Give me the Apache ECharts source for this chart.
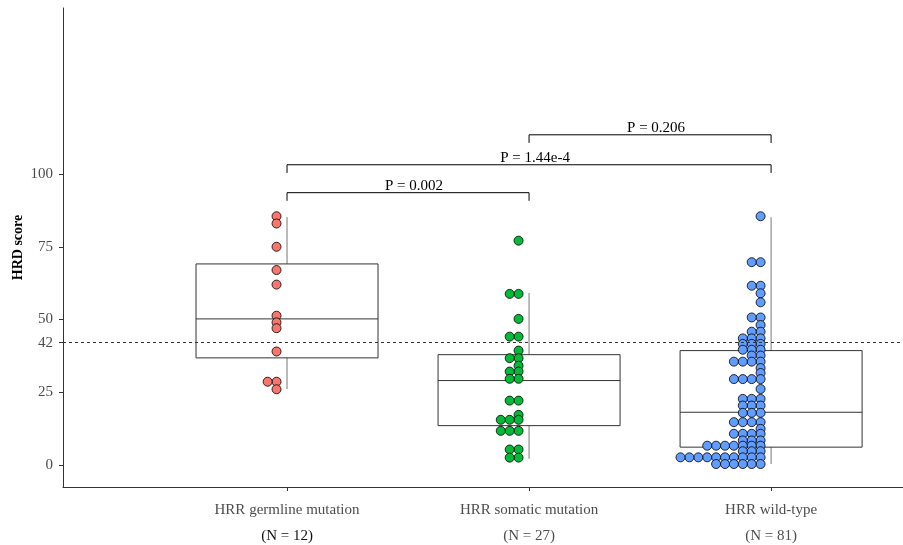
<!DOCTYPE html>
<html>
<head>
<meta charset="utf-8">
<script src="https://cdn.jsdelivr.net/npm/echarts@6/dist/echarts.min.js"></script>
<style>
  html, body { margin: 0; padding: 0; background: #fff; }
  #chart { width: 903px; height: 545px; }
</style>
</head>
<body>
<div id="chart"></div>
<script>
const groups = ['HRR germline mutation', 'HRR somatic mutation', 'HRR wild-type'];
const groupN = ['(N = 12)', '(N = 27)', '(N = 81)'];
const colors = ['#F8766D', '#00BA38', '#619CFF'];
const yTicks = [0, 25, 42, 50, 75, 100];
const cutoff = 42;

const germline = [85.5, 83, 75, 67, 62, 51.3, 49, 47, 39, 28.6, 28.6, 26];
const somatic = [77.1, 58.8, 58.8, 50.2, 44.1, 44.1, 39.3, 36.7, 36.7, 34.1, 32.1, 32.1,
  29.6, 29.6, 22.1, 22.1, 17.2, 15.5, 15.5, 15.5, 11.7, 11.7, 11.7, 5.3, 5.3, 2.5, 2.5];
const wildtype = [85.5, 69.7, 69.7, 61.6, 61.6, 59, 55.9, 50.7, 50.7, 48.1, 45.8, 45.8,
  43.5, 43.5, 43.5, 41.6, 41.6, 41.6, 39.6, 39.6, 39.6, 37.6, 37.6,
  35.5, 35.5, 35.5, 35.5, 33.3, 31.6, 29.5, 29.5, 29.5, 29.5, 26.1,
  22.7, 22.7, 22.7, 20.4, 20.4, 20.4, 17.9, 17.9, 17.9, 14.7, 14.7, 14.7, 14.7, 12.4,
  10.7, 10.7, 10.7, 10.7, 8.4, 8.4, 8.4, 6.6, 6.6, 6.6, 6.6, 6.6, 6.6, 6.6,
  4.7, 4.7, 4.7, 2.6, 2.6, 2.6, 2.6, 2.6, 2.6, 2.6, 2.6, 2.6, 2.6,
  0.3, 0.3, 0.3, 0.3, 0.3, 0.3];

// whisker low, Q1, median, Q3, whisker high
const boxStats = [
  [26.1, 36.8, 50.2, 69.1, 85.2],
  [2.1, 13.5, 29.0, 37.9, 59.1],
  [0.3, 6.1, 18.1, 39.3, 85.1]
];

const comparisons = [
  { from: 1, to: 2, y: 93.6, label: 'P = 0.002' },
  { from: 1, to: 3, y: 103.2, label: 'P = 1.44e-4' },
  { from: 2, to: 3, y: 113.5, label: 'P = 0.206' }
];

const font = 'Liberation Serif';

// stack equal values side by side, to the left of the group centre
function dotData(values, gx) {
  const seen = {};
  return values.map(v => {
    const k = seen[v] || 0;
    seen[v] = k + 1;
    return [gx, v, k];
  });
}

const chart = echarts.init(document.getElementById('chart'));

const dotSeries = [germline, somatic, wildtype].map((vals, i) => ({
  type: 'custom',
  name: groups[i],
  data: dotData(vals, i + 1),
  encode: { x: 0, y: 1 },
  z: 3,
  renderItem: (params, api) => {
    const p = api.coord([api.value(0), api.value(1)]);
    return {
      type: 'circle',
      shape: { cx: p[0] - 10.5 - 8.9 * api.value(2), cy: p[1], r: 4.5 },
      style: { fill: colors[i], stroke: '#000', lineWidth: 0.8 }
    };
  }
}));

chart.setOption({
  animation: false,
  grid: { left: 63, right: 0, top: 8, bottom: 58, outerBoundsMode: 'none' },
  xAxis: {
    type: 'value',
    min: 0.0744,
    max: 3.545,
    splitLine: { show: false },
    axisLine: { show: true, onZero: false, lineStyle: { color: '#333', width: 1 } },
    axisTick: { show: true, customValues: [1, 2, 3], length: 4, lineStyle: { color: '#333' } },
    axisLabel: {
      customValues: [1, 2, 3],
      margin: 10,
      formatter: v => {
        const i = Math.round(v) - 1;
        return `{a|${groups[i]}}\n{b${i}|${groupN[i]}}`;
      },
      rich: {
        a: { fontFamily: font, fontSize: 15, color: '#4d4d4d', lineHeight: 26 },
        b0: { fontFamily: font, fontSize: 15, color: '#111', lineHeight: 26 },
        b1: { fontFamily: font, fontSize: 15, color: '#4d4d4d', lineHeight: 26 },
        b2: { fontFamily: font, fontSize: 15, color: '#4d4d4d', lineHeight: 26 }
      }
    }
  },
  yAxis: {
    type: 'value',
    min: -7.6,
    max: 157.1,
    name: 'HRD score',
    nameLocation: 'middle',
    nameGap: 38,
    nameMoveOverlap: false,
    nameTextStyle: { fontFamily: font, fontSize: 14, fontWeight: 'bold', color: '#000' },
    splitLine: { show: false },
    axisLine: { show: true, onZero: false, lineStyle: { color: '#333', width: 1 } },
    axisTick: { show: true, customValues: yTicks, length: 4, lineStyle: { color: '#333' } },
    axisLabel: { customValues: yTicks, margin: 10, fontFamily: font, fontSize: 15, color: '#4d4d4d' }
  },
  series: [
    {
      type: 'custom',
      name: 'box',
      data: boxStats.map((s, i) => [i + 1, ...s]),
      encode: { x: 0, y: [1, 2, 3, 4, 5] },
      z: 2,
      renderItem: (params, api) => {
        const gx = api.value(0);
        const x = api.coord([gx, 0])[0];
        const y = [1, 2, 3, 4, 5].map(d => api.coord([gx, api.value(d)])[1]);
        const half = api.size([0.752, 0])[0] / 2;
        const whisker = { stroke: '#777', lineWidth: 1 };
        const edge = { stroke: '#333', lineWidth: 1, fill: 'none' };
        return {
          type: 'group',
          children: [
            { type: 'line', shape: { x1: x, y1: y[4], x2: x, y2: y[3] }, style: whisker },
            { type: 'line', shape: { x1: x, y1: y[1], x2: x, y2: y[0] }, style: whisker },
            { type: 'rect', shape: { x: x - half, y: y[3], width: half * 2, height: y[1] - y[3] }, style: edge },
            { type: 'line', shape: { x1: x - half, y1: y[2], x2: x + half, y2: y[2] }, style: edge }
          ]
        };
      },
      markLine: {
        silent: true,
        symbol: 'none',
        label: { show: false },
        lineStyle: { color: '#333', width: 1, type: [3, 3] },
        data: [{ yAxis: cutoff }]
      }
    },
    ...dotSeries,
    {
      type: 'custom',
      name: 'brackets',
      data: comparisons.map(c => [c.from, c.to, c.y]),
      encode: { x: [0, 1], y: 2 },
      z: 4,
      clip: false,
      renderItem: (params, api) => {
        const c = comparisons[params.dataIndex];
        const p1 = api.coord([c.from, c.y]);
        const p2 = api.coord([c.to, c.y]);
        const drop = api.coord([c.from, c.y - 2.8])[1];
        return {
          type: 'group',
          children: [
            {
              type: 'polyline',
              shape: { points: [[p1[0], drop], [p1[0], p1[1]], [p2[0], p2[1]], [p2[0], drop]] },
              style: { stroke: '#000', lineWidth: 1, fill: 'none' }
            },
            {
              type: 'text',
              style: {
                x: (p1[0] + p2[0]) / 2 + 6,
                y: p1[1] + 1,
                text: c.label,
                align: 'center',
                verticalAlign: 'bottom',
                font: `15px "${font}"`,
                fill: '#000'
              }
            }
          ]
        };
      }
    }
  ]
});
</script>
</body>
</html>
